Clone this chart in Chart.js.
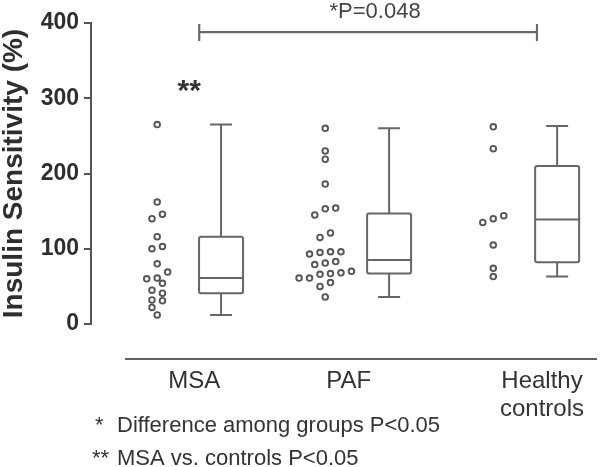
<!DOCTYPE html>
<html><head><meta charset="utf-8">
<script src="https://cdn.jsdelivr.net/npm/chart.js@4"></script>
<style>html,body{margin:0;padding:0;background:#fff}canvas{display:block}</style>
</head><body>
<canvas id="c" width="600" height="467"></canvas>
<script>
// ---- data ----
const categories = ['MSA', 'PAF', ['Healthy', 'controls']];
const msaValues = [265, 162, 146, 140, 116, 103, 100, 80, 69, 61, 60, 54, 45, 41, 32, 31, 22, 12];
const pafValues = [260, 230, 219, 186, 154, 153, 145, 121, 115, 96, 96, 95, 93, 83, 81, 79, 70, 68, 67, 66, 61, 61, 55, 50, 36];
const healthyValues = [262, 233, 144, 140, 135, 105, 74, 63];
const boxMin = [12, 36, 63];
const boxQ1 = [41, 67, 82];
const boxMedian = [61, 85, 139];
const boxQ3 = [116, 147, 210];
const boxMax = [265, 260, 263];
const yTicks = [0, 100, 200, 300, 400];
const yTitle = 'Insulin Sensitivity (%)';
const comparisonLabel = '*P=0.048';
const msaMark = '**';
const footnoteMarks = ['*', '**'];
const footnotes = ['Difference among groups P<0.05', 'MSA vs. controls P<0.05'];

// ---- layout helpers ----
const FONT = "'Liberation Sans', Arial, Helvetica, sans-serif";
const X_MIN = 0.606, X_MAX = 3.6;
const PX_PER_X = 509 / (X_MAX - X_MIN);
const PX_PER_Y = 301 / 400;
const BOX_OFFSET = 0.38;

function swarm(values, center) {
  const sorted = values.slice().sort((a, b) => a - b);
  const binUnits = 7 / PX_PER_Y;
  const step = 10.6 / PX_PER_X;
  const bins = [];
  sorted.forEach(v => {
    const last = bins[bins.length - 1];
    if (last && v - last[0] < binUnits) last.push(v); else bins.push([v]);
  });
  const pts = [];
  bins.forEach(b => b.forEach((v, i) => pts.push({x: center + (i - (b.length - 1) / 2) * step, y: v})));
  return pts;
}

const groups = [msaValues, pafValues, healthyValues];
const datasets = groups.map((vals, gi) => ({
  data: swarm(vals, gi + 1),
  pointStyle: 'circle',
  pointRadius: 2.8,
  pointBorderWidth: 1.9,
  pointBorderColor: '#555',
  pointBackgroundColor: '#fff',
  showLine: false
}));

const annotations = {
  id: 'annotations',
  afterDatasetsDraw(chart) {
    const {ctx, scales: {x, y}} = chart;
    ctx.save();
    ctx.strokeStyle = '#666';
    ctx.lineWidth = 2;
    for (let i = 0; i < boxMin.length; i++) {
      const cx = x.getPixelForValue(i + 1 + BOX_OFFSET);
      const hw = 22, cw = 11;
      const yMin = y.getPixelForValue(boxMin[i]);
      const yQ1 = y.getPixelForValue(boxQ1[i]);
      const yMed = y.getPixelForValue(boxMedian[i]);
      const yQ3 = y.getPixelForValue(boxQ3[i]);
      const yMax = y.getPixelForValue(boxMax[i]);
      ctx.beginPath();
      ctx.moveTo(cx, yMax); ctx.lineTo(cx, yQ3);
      ctx.moveTo(cx, yQ1); ctx.lineTo(cx, yMin);
      ctx.moveTo(cx - cw, yMax); ctx.lineTo(cx + cw, yMax);
      ctx.moveTo(cx - cw, yMin); ctx.lineTo(cx + cw, yMin);
      ctx.moveTo(cx - hw, yMed); ctx.lineTo(cx + hw, yMed);
      ctx.stroke();
      ctx.beginPath();
      if (ctx.roundRect) ctx.roundRect(cx - hw, yQ3, 2 * hw, yQ1 - yQ3, 2);
      else ctx.rect(cx - hw, yQ3, 2 * hw, yQ1 - yQ3);
      ctx.stroke();
    }
    ctx.restore();
  },
  afterDraw(chart) {
    const {ctx, scales: {x, y}} = chart;
    ctx.save();
    // comparison bracket
    const bx1 = x.getPixelForValue(1 + 0.25), bx2 = x.getPixelForValue(3 + 0.26);
    const by = y.getPixelForValue(388);
    ctx.strokeStyle = '#6a6a6a';
    ctx.lineWidth = 2.2;
    ctx.beginPath();
    ctx.moveTo(bx1, by); ctx.lineTo(bx2, by);
    ctx.moveTo(bx1, by - 8); ctx.lineTo(bx1, by + 9);
    ctx.moveTo(bx2, by - 8); ctx.lineTo(bx2, by + 9);
    ctx.stroke();
    ctx.fillStyle = '#444';
    ctx.font = '22px ' + FONT;
    ctx.textAlign = 'center';
    ctx.textBaseline = 'alphabetic';
    ctx.fillText(comparisonLabel, (bx1 + bx2) / 2 + 7, 18);
    // ** mark over MSA
    ctx.fillStyle = '#333';
    ctx.font = 'bold 30px ' + FONT;
    ctx.fillText(msaMark, x.getPixelForValue(1 + 0.19), 100);
    // category separator
    ctx.strokeStyle = '#606060';
    ctx.lineWidth = 2.2;
    ctx.beginPath();
    ctx.moveTo(125, 359); ctx.lineTo(597, 359);
    ctx.stroke();
    // category labels
    const nudges = [0.22, 0.14, 0.29];
    ctx.fillStyle = '#333';
    ctx.font = '24px ' + FONT;
    categories.forEach((lab, i) => {
      const cx = x.getPixelForValue(i + 1 + nudges[i]);
      const lines = Array.isArray(lab) ? lab : [lab];
      lines.forEach((l, j) => ctx.fillText(l, cx, 388 + j * 28));
    });
    // footnotes
    ctx.font = '22px ' + FONT;
    ctx.textAlign = 'left';
    const fy = [432, 465];
    const mx = [95, 92];
    footnotes.forEach((t, i) => {
      ctx.fillText(footnoteMarks[i], mx[i], fy[i]);
      ctx.fillText(t, 117, fy[i]);
    });
    ctx.restore();
  }
};

Chart.defaults.font.family = FONT;
new Chart(document.getElementById('c'), {
  type: 'scatter',
  data: {datasets},
  options: {
    responsive: false,
    animation: false,
    events: [],
    layout: {padding: {top: 23, bottom: 143, left: 0, right: 0}},
    plugins: {legend: {display: false}, tooltip: {enabled: false}},
    scales: {
      x: {type: 'linear', display: false, min: X_MIN, max: X_MAX},
      y: {
        type: 'linear', min: 0, max: 400,
        afterBuildTicks: s => { s.ticks = yTicks.map(v => ({value: v})); },
        afterFit: s => { s.width = 91; },
        ticks: {color: '#2e2e2e', font: {size: 23, weight: 'bold'}, padding: 5},
        grid: {drawOnChartArea: false, drawTicks: true, tickLength: 7, color: '#555', lineWidth: 2},
        border: {display: true, color: '#555', width: 2},
        title: {display: true, text: yTitle, color: '#2e2e2e', font: {size: 28, weight: 'bold', lineHeight: 1}, padding: 0}
      }
    }
  },
  plugins: [annotations]
});
</script>
</body></html>
